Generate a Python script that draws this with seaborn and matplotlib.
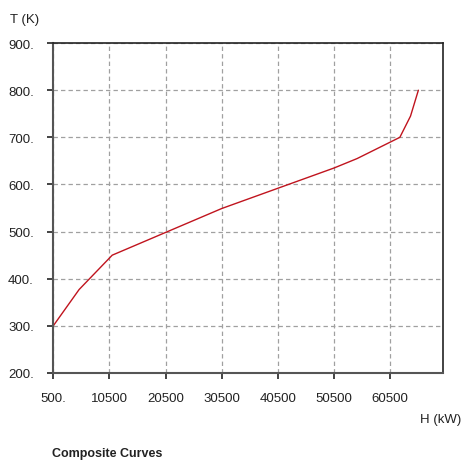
import pandas as pd
import seaborn as sns
import matplotlib.pyplot as plt

# Composite curve
enthalpy = [500, 5100, 11000, 30500, 50500, 54600, 62200, 64100, 65500]
temperature = [300, 377, 450, 549, 635, 655, 700, 745, 800]

x_ticks = [500, 10500, 20500, 30500, 40500, 50500, 60500]
x_labels = ["500.", "10500", "20500", "30500", "40500", "50500", "60500"]
y_ticks = [200, 300, 400, 500, 600, 700, 800, 900]
y_labels = ["200.", "300.", "400.", "500.", "600.", "700.", "800.", "900."]

df = pd.DataFrame({"H": enthalpy, "T": temperature})

sns.set_style("white")
plt.rcParams["font.family"] = ["Liberation Sans", "DejaVu Sans"]

fig = plt.figure(figsize=(4.63, 4.64), dpi=100)
ax = fig.add_axes([0.115, 0.194, 0.842, 0.711])

sns.lineplot(data=df, x="H", y="T", ax=ax, color="#c0141e", linewidth=1.0)

ax.set_xlim(500, 69900)
ax.set_ylim(200, 900)
ax.set_xticks(x_ticks)
ax.set_xticklabels(x_labels)
ax.set_yticks(y_ticks)
ax.set_yticklabels(y_labels)
ax.set_xlabel("")
ax.set_ylabel("")

ax.grid(True, color="#a0a0a0", linestyle=(0, (3.5, 2.5)), linewidth=0.9)
ax.tick_params(axis="both", direction="out", length=4, width=1.2, color="#222222",
               labelsize=9.5, labelcolor="#222222", bottom=True, left=True)
ax.tick_params(axis="x", pad=10)
ax.tick_params(axis="y", pad=10)
for side in ["left", "bottom"]:
    ax.spines[side].set_color("#555555")
    ax.spines[side].set_linewidth(1.5)
for side in ["top", "right"]:
    ax.spines[side].set_color("#222222")
    ax.spines[side].set_linewidth(1.2)

fig.text(10 / 463, 1 - 20 / 464, "T (K)", fontsize=9.5, color="#222222", va="center", ha="left")
fig.text(461 / 463, 1 - 420 / 464, "H (kW)", fontsize=9.5, color="#222222", va="center", ha="right")
fig.text(52 / 463, 1 - 454 / 464, "Composite Curves", fontsize=9, fontweight="bold",
         color="#222222", va="center", ha="left",
         family=["Liberation Sans Narrow", "Liberation Sans", "DejaVu Sans"])

fig.savefig("out.png", dpi=100)
